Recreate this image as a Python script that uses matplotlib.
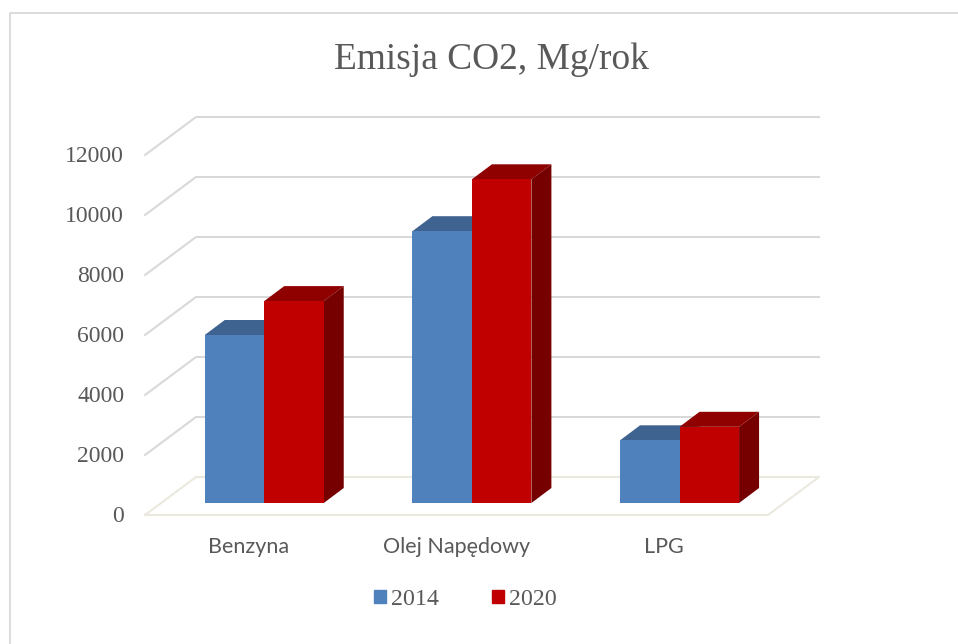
import matplotlib
matplotlib.use('Agg')
import matplotlib.pyplot as plt
from matplotlib.lines import Line2D
from matplotlib.patches import Patch
from matplotlib.transforms import ScaledTranslation
import numpy as np

# Values
categories = ['Benzyna', 'Olej Napędowy', 'LPG']
years = ['2014', '2020']
values_2014 = [5600, 9060, 2090]
values_2020 = [6730, 10790, 2540]
y_ticks = [0, 2000, 4000, 6000, 8000, 10000, 12000]

W, H = 958, 644
GRAY = '#d9d9d9'
FLOOR = '#ebe9df'
TEXT = '#595959'
SERIF = 'Liberation Serif'

fig = plt.figure(figsize=(W / 100, H / 100), dpi=100)
fig.patch.set_facecolor('white')

# front plane of the fake 3d box
left, right, bottom, top = 145, 768, 515, 155
ax = fig.add_axes([left / W, 1 - bottom / H, (right - left) / W, (bottom - top) / H])
ax.set_xlim(-0.5, 2.5)
ax.set_ylim(0, 12000)
ax.patch.set_alpha(0)
for s in ax.spines.values():
    s.set_visible(False)

px_x = 3 / (right - left)  # data units per pixel
px_y = 12000 / (bottom - top)

# depth of the box and of the bars, in pixels
box_dx, box_dy = 51 * px_x, 38 * px_y
bar_dx, bar_dy = 20 * px_x, 15 * px_y
shift_x, shift_y = 15.4 * px_x, 12 * px_y
bar_w = 59.5 * px_x

# walls
x0, x1 = -0.5, 2.5
for t in y_ticks[1:]:
    ax.plot([x0, x0 + box_dx, x1 + box_dx], [t, t + box_dy, t + box_dy],
            color=GRAY, lw=1.5, clip_on=False, zorder=1)
ax.plot([x0, x1, x1 + box_dx, x0 + box_dx, x0], [0, 0, box_dy, box_dy, 0],
        color=FLOOR, lw=1.5, clip_on=False, zorder=1)


def draw_bars(vals, offset, front, top_c, side_c, z):
    xs = np.arange(len(vals)) + shift_x + offset
    for x, v in zip(xs, vals):
        l, r = x - bar_w / 2, x + bar_w / 2
        b, t = shift_y, shift_y + v
        ax.fill([l, r, r + bar_dx, l + bar_dx], [t, t, t + bar_dy, t + bar_dy],
                color=top_c, lw=0, clip_on=False, zorder=z)
        ax.fill([r, r + bar_dx, r + bar_dx, r], [b, b + bar_dy, t + bar_dy, t],
                color=side_c, lw=0, clip_on=False, zorder=z)
    ax.bar(xs, vals, bar_w, bottom=shift_y, color=front, zorder=z + 0.5)


draw_bars(values_2014, -bar_w / 2, '#4f81bd', '#3f6391', '#3f6391', 2)
draw_bars(values_2020, bar_w / 2, '#c00000', '#8f0000', '#760000', 3)

# axis labels
ax.set_yticks(y_ticks)
ax.set_yticklabels([str(t) for t in y_ticks], family=SERIF, fontsize=17, color=TEXT)
ax.tick_params(axis='y', length=0, pad=15)
up = ScaledTranslation(0, 1 / 72, fig.dpi_scale_trans)
for lab in ax.get_yticklabels():
    lab.set_transform(lab.get_transform() + up)
ax.set_xticks(range(len(categories)))
ax.set_xticklabels(categories, family='Lato', fontsize=15.5, color=TEXT)
ax.tick_params(axis='x', length=0, pad=16)

fig.text(491 / W, 1 - 60 / H, 'Emisja CO2, Mg/rok', family=SERIF, fontsize=26.9,
         color=TEXT, ha='center', va='center')

handles = [Patch(color='#4f81bd'), Patch(color='#c00000')]
fig.legend(handles, years, loc='center', bbox_to_anchor=(465.5 / W, 1 - 599.5 / H), ncol=2,
           frameon=False, prop={'family': SERIF, 'size': 17.2}, labelcolor=TEXT,
           handlelength=0.5, handleheight=0.5, handletextpad=0.22, columnspacing=2.2)

# chart frame, only the left and top edges are visible
fig.add_artist(Line2D([9.5 / W, 9.5 / W, 1], [0, 1 - 13 / H, 1 - 13 / H], color=GRAY, lw=1.3))

fig.savefig('out.png', dpi=100)
